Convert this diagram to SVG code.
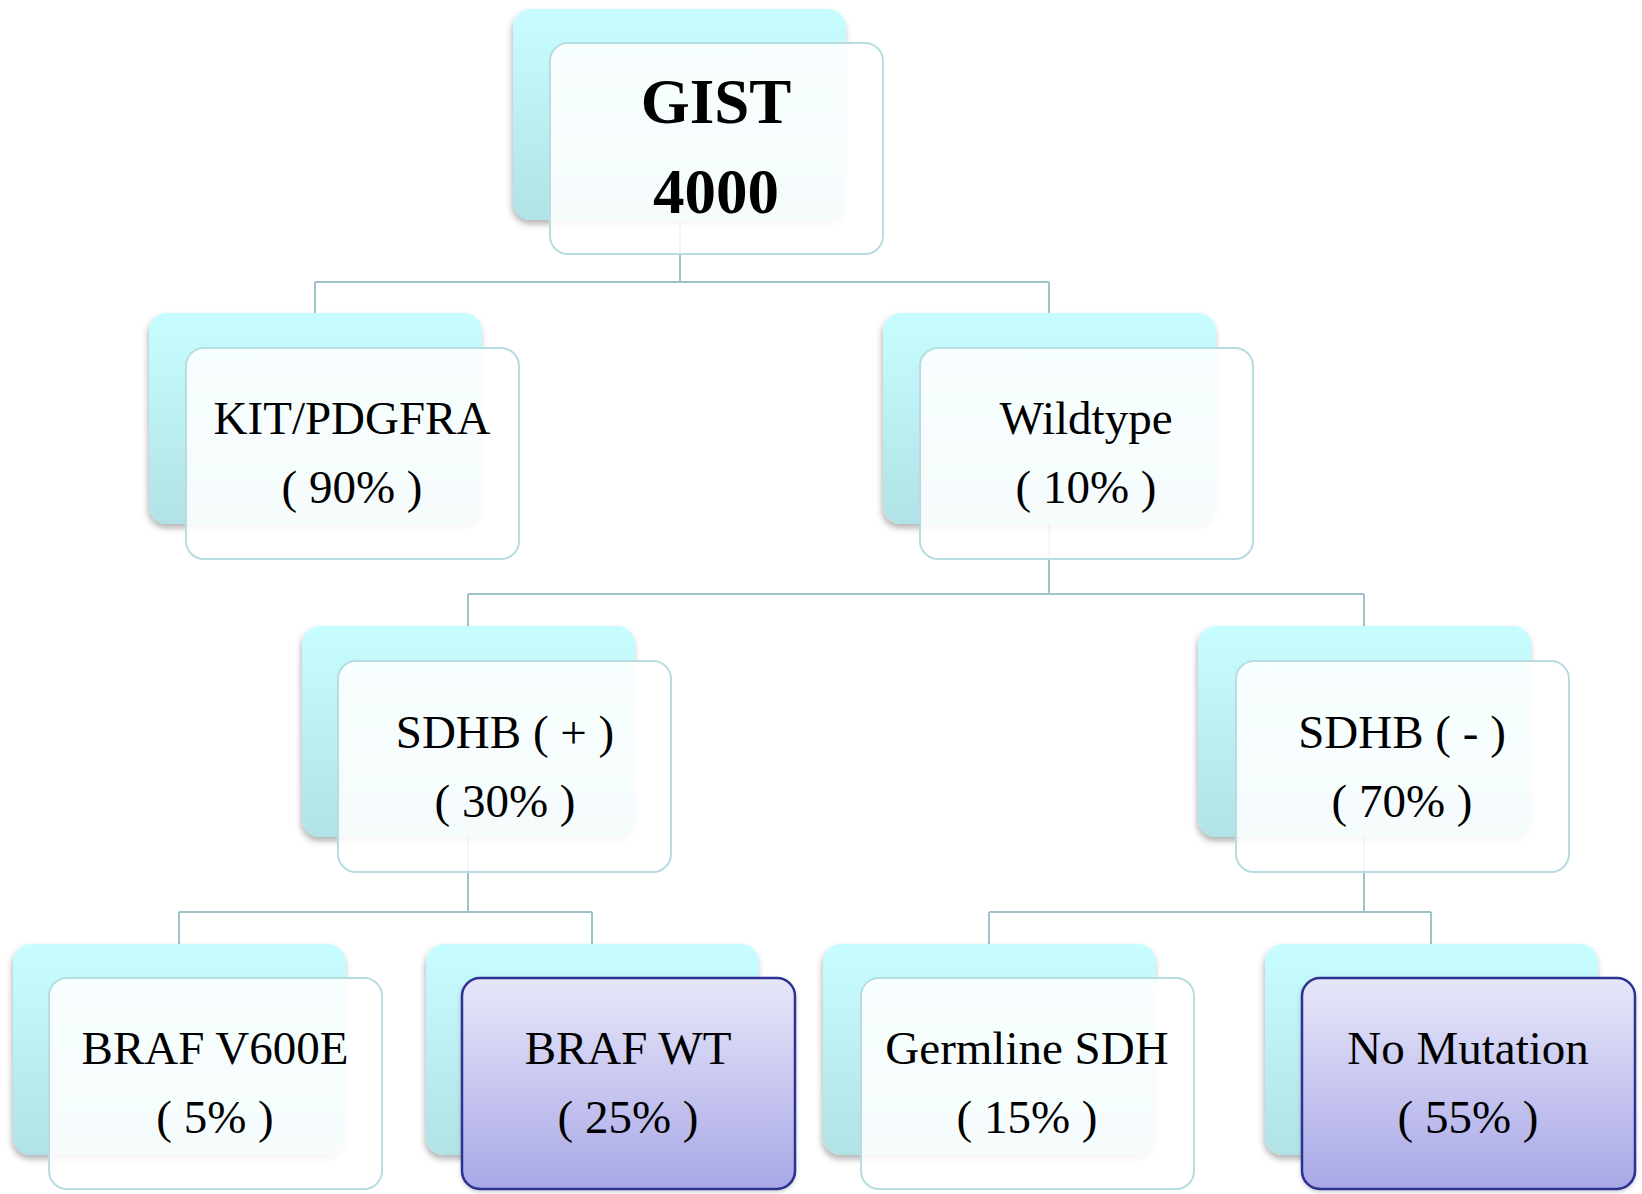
<svg xmlns="http://www.w3.org/2000/svg" width="1642" height="1194" viewBox="0 0 1642 1194">
<defs>
<linearGradient id="gBack" x1="0" y1="0" x2="0" y2="1">
<stop offset="0" stop-color="#c8fdff"/>
<stop offset="1" stop-color="#b1e2e5"/>
</linearGradient>
<linearGradient id="gPurple" x1="0" y1="0" x2="0" y2="1">
<stop offset="0" stop-color="#e7e7f9"/>
<stop offset="1" stop-color="#a9a8e7"/>
</linearGradient>
<filter id="sh" x="-10%" y="-10%" width="120%" height="125%">
<feDropShadow dx="-1" dy="4" stdDeviation="3" flood-color="#000" flood-opacity="0.3"/>
</filter>
<filter id="sh2" x="-10%" y="-10%" width="120%" height="125%">
<feDropShadow dx="0" dy="2" stdDeviation="2" flood-color="#000" flood-opacity="0.18"/>
</filter>
</defs>
<style>
.back{fill:url(#gBack);filter:url(#sh);}
.front{fill:#ffffff;fill-opacity:0.88;stroke:#b6dde1;stroke-width:2;}
.purple{fill:url(#gPurple);stroke:#2e3192;stroke-width:2.5;filter:url(#sh2);}
.conn{fill:none;stroke:#9cc5c9;stroke-width:2;}
.t{font-family:"Liberation Serif","Times New Roman",serif;font-size:47px;fill:#000;text-anchor:middle;}
.tb{font-family:"Liberation Serif","Times New Roman",serif;font-size:63px;font-weight:bold;fill:#000;text-anchor:middle;}
</style>
<rect width="1642" height="1194" fill="#ffffff"/>
<g id="connectors">
<path class="conn" d="M680,220 V282 M315,282 H1049 M315,282 V313 M1049,282 V313"/>
<path class="conn" d="M1049,524 V594 M468,594 H1364 M468,594 V626 M1364,594 V626"/>
<path class="conn" d="M468,836 V912 M179,912 H592 M179,912 V944 M592,912 V944"/>
<path class="conn" d="M1364,836 V912 M989,912 H1431 M989,912 V944 M1431,912 V944"/>
</g>
<g id="gist">
<rect class="back" x="513" y="9" width="333" height="211" rx="18"/>
<rect class="front" x="550" y="43" width="333" height="211" rx="18"/>
<text class="tb" x="716" y="123">GIST</text>
<text class="tb" x="716" y="213">4000</text>
</g>
<g id="kit">
<rect class="back" x="149" y="313" width="333" height="211" rx="18"/>
<rect class="front" x="186" y="348" width="333" height="211" rx="18"/>
<text class="t" x="352" y="434">KIT/PDGFRA</text>
<text class="t" x="352" y="503">( 90% )</text>
</g>
<g id="wildtype">
<rect class="back" x="883" y="313" width="333" height="211" rx="18"/>
<rect class="front" x="920" y="348" width="333" height="211" rx="18"/>
<text class="t" x="1086" y="434">Wildtype</text>
<text class="t" x="1086" y="503">( 10% )</text>
</g>
<g id="sdhb-pos">
<rect class="back" x="302" y="626" width="333" height="211" rx="18"/>
<rect class="front" x="338" y="661" width="333" height="211" rx="18"/>
<text class="t" x="505" y="748">SDHB ( + )</text>
<text class="t" x="505" y="817">( 30% )</text>
</g>
<g id="sdhb-neg">
<rect class="back" x="1198" y="626" width="333" height="211" rx="18"/>
<rect class="front" x="1236" y="661" width="333" height="211" rx="18"/>
<text class="t" x="1402" y="748">SDHB ( - )</text>
<text class="t" x="1402" y="817">( 70% )</text>
</g>
<g id="braf-v600e">
<rect class="back" x="13" y="944" width="333" height="211" rx="18"/>
<rect class="front" x="49" y="978" width="333" height="211" rx="18"/>
<text class="t" x="215" y="1064">BRAF V600E</text>
<text class="t" x="215" y="1133">( 5% )</text>
</g>
<g id="braf-wt">
<rect class="back" x="426" y="944" width="333" height="211" rx="18"/>
<rect class="purple" x="462" y="978" width="333" height="211" rx="18"/>
<text class="t" x="628" y="1064">BRAF WT</text>
<text class="t" x="628" y="1133">( 25% )</text>
</g>
<g id="germline-sdh">
<rect class="back" x="823" y="944" width="333" height="211" rx="18"/>
<rect class="front" x="861" y="978" width="333" height="211" rx="18"/>
<text class="t" x="1027" y="1064">Germline SDH</text>
<text class="t" x="1027" y="1133">( 15% )</text>
</g>
<g id="no-mutation">
<rect class="back" x="1265" y="944" width="333" height="211" rx="18"/>
<rect class="purple" x="1302" y="978" width="333" height="211" rx="18"/>
<text class="t" x="1468" y="1064">No Mutation</text>
<text class="t" x="1468" y="1133">( 55% )</text>
</g>
</svg>
